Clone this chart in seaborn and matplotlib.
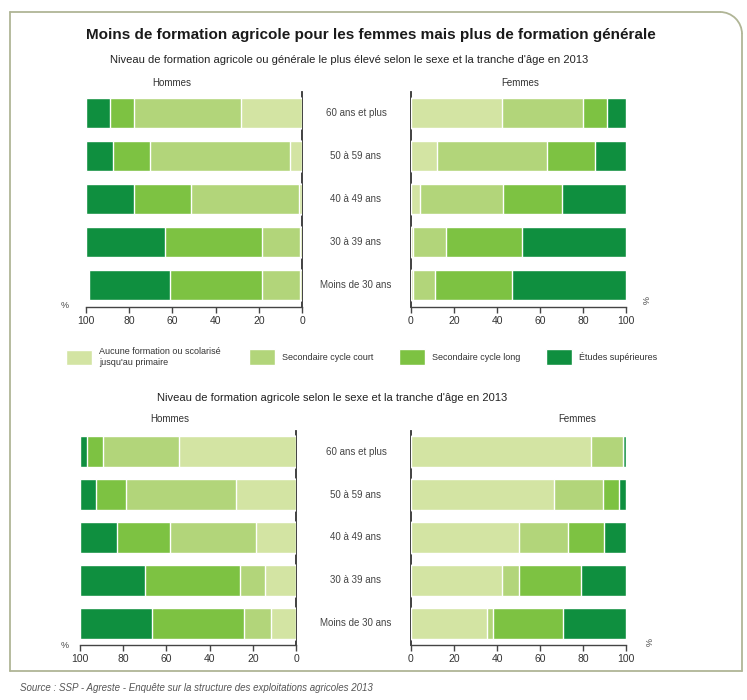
import numpy as np
import matplotlib
matplotlib.use("Agg")
import matplotlib.pyplot as plt
import matplotlib.transforms as mtransforms
from matplotlib.lines import Line2D
from matplotlib.patches import Arc
import seaborn as sns

sns.set_style("white")
plt.rcParams["font.family"] = ["Liberation Sans", "DejaVu Sans"]

# Data (percent)
ages = ["60 ans et plus", "50 à 59 ans", "40 à 49 ans", "30 à 39 ans", "Moins de 30 ans"]
levels = ["Aucune formation ou scolarisé\njusqu'au primaire", "Secondaire cycle court",
          "Secondaire cycle long", "Études supérieures"]
colors = ["#d3e4a3", "#b2d57a", "#7dc242", "#0f8f3f"]

# agricultural or general training
hommes_gen_aucune = [28.1, 5.4, 1.5, 1.0, 1.0]
hommes_gen_court = [49.6, 64.9, 49.8, 17.6, 17.6]
hommes_gen_long = [11.1, 17.3, 26.4, 44.7, 42.7]
hommes_gen_sup = [11.2, 12.4, 22.3, 36.7, 37.2]

femmes_gen_aucune = [42.2, 11.9, 4.2, 0.8, 0.8]
femmes_gen_court = [37.7, 51.2, 38.4, 15.3, 10.4]
femmes_gen_long = [11.2, 22.5, 27.4, 35.7, 36.0]
femmes_gen_sup = [8.9, 14.4, 30.0, 48.2, 52.8]

# agricultural training only
hommes_agri_aucune = [54.1, 27.7, 18.4, 14.2, 11.6]
hommes_agri_court = [35.4, 51.0, 39.9, 11.9, 12.4]
hommes_agri_long = [7.4, 13.9, 24.4, 44.0, 42.5]
hommes_agri_sup = [3.1, 7.4, 17.3, 29.8, 33.5]

femmes_agri_aucune = [83.6, 66.7, 50.4, 42.2, 35.2]
femmes_agri_court = [14.9, 22.5, 22.5, 8.2, 3.1]
femmes_agri_long = [0.3, 7.6, 16.9, 28.7, 32.6]
femmes_agri_sup = [1.2, 3.2, 10.2, 20.9, 29.1]

W, H = 747, 700
fig = plt.figure(figsize=(W / 100, H / 100), dpi=100)


def px_axes(x0, x1, y0, y1):
    return fig.add_axes([x0 / W, 1 - y1 / H, (x1 - x0) / W, (y1 - y0) / H])


def draw_panel(ax, series, hommes):
    cum = np.cumsum(np.array(series), axis=0)
    # longest cumulative bar first, shorter ones drawn over it
    for i in range(3, -1, -1):
        sns.barplot(x=cum[i], y=ages, orient="h", color=colors[i], saturation=1,
                    width=0.72, errorbar=None, label=levels[i], zorder=3, ax=ax)
    if ax.get_legend() is not None:
        ax.get_legend().remove()
    if hommes:
        ax.set_xlim(100, 0)
        ax.spines["left"].set_visible(False)
        ax.spines["right"].set_visible(True)
        side = "right"
    else:
        ax.set_xlim(0, 100)
        ax.spines["right"].set_visible(False)
        side = "left"
    ax.spines["top"].set_visible(False)
    ax.spines[side].set_color("#333333")
    ax.spines[side].set_linewidth(1.3)
    ax.spines[side].set_zorder(1)
    ax.spines["bottom"].set_color("#444444")
    ax.spines["bottom"].set_linewidth(1.0)
    ax.set_ylim(4.5, -0.5)
    ax.set_xticks([0, 20, 40, 60, 80, 100])
    ax.set_yticks([])
    ax.set_xlabel("")
    ax.set_ylabel("")
    ax.tick_params(axis="x", direction="out", length=4, width=1, color="#444444",
                   labelsize=7.5, labelcolor="#333333", pad=3, bottom=True)
    ax.patch.set_alpha(0)


ax_hg = px_axes(86, 302, 91.5, 306.5)
ax_fg = px_axes(411, 626, 91.5, 306.5)
ax_ha = px_axes(80, 296, 430.5, 644.5)
ax_fa = px_axes(411, 626, 430.5, 644.5)

draw_panel(ax_hg, [hommes_gen_aucune, hommes_gen_court, hommes_gen_long, hommes_gen_sup], True)
draw_panel(ax_fg, [femmes_gen_aucune, femmes_gen_court, femmes_gen_long, femmes_gen_sup], False)
draw_panel(ax_ha, [hommes_agri_aucune, hommes_agri_court, hommes_agri_long, hommes_agri_sup], True)
draw_panel(ax_fa, [femmes_agri_aucune, femmes_agri_court, femmes_agri_long, femmes_agri_sup], False)

# age labels between the panels
for ax in (ax_fg, ax_fa):
    tr = mtransforms.blended_transform_factory(fig.transFigure, ax.transData)
    for i, age in enumerate(ages):
        ax.text(356 / W, i, age, transform=tr, ha="center", va="center",
                fontsize=7, color="#444444")

# titles
fig.text(371 / W, 1 - 35 / H, "Moins de formation agricole pour les femmes mais plus de formation générale",
         ha="center", va="center", fontsize=11, fontweight="bold", color="#1a1a1a")
fig.text(349 / W, 1 - 60 / H,
         "Niveau de formation agricole ou générale le plus élevé selon le sexe et la tranche d'âge en 2013",
         ha="center", va="center", fontsize=8, color="#222222")
fig.text(332 / W, 1 - 398 / H, "Niveau de formation agricole selon le sexe et la tranche d'âge en 2013",
         ha="center", va="center", fontsize=8, color="#222222")
for x, y, t in [(172, 83, "Hommes"), (520, 83, "Femmes"), (170, 419, "Hommes"), (577, 419, "Femmes")]:
    fig.text(x / W, 1 - y / H, t, ha="center", va="center", fontsize=7, color="#333333")

# % unit marks
fig.text(65 / W, 1 - 305 / H, "%", ha="center", va="center", fontsize=6.5, color="#444444")
fig.text(65 / W, 1 - 645 / H, "%", ha="center", va="center", fontsize=6.5, color="#444444")
fig.text(644 / W, 1 - 300 / H, "%", ha="center", va="center", fontsize=6.5, color="#444444", rotation=-90)
fig.text(647 / W, 1 - 642 / H, "%", ha="center", va="center", fontsize=6.5, color="#444444", rotation=-90)

# legend: one entry per slot so each patch sits where it does in the original
handles, labels = ax_fg.get_legend_handles_labels()
handles, labels = handles[::-1], labels[::-1]
for h, lab, x in zip(handles, labels, [66, 249, 399, 546]):
    fig.legend([h], [lab], loc="center left", bbox_to_anchor=(x / W, 1 - 357 / H),
               frameon=False, fontsize=6.5, handlelength=2.9, handleheight=2.2,
               handletextpad=0.8, borderpad=0, borderaxespad=0, labelcolor="#333333")

# source
fig.text(20 / W, 1 - 688 / H, "Source : SSP - Agreste - Enquête sur la structure des exploitations agricoles 2013",
         ha="left", va="center", fontsize=7, style="italic", color="#555555")

# frame with rounded top-right corner
bc = "#b0b596"
r = 22
x0, x1, y0, y1 = 10, 742, 12, 671
frame = [([x0, x0], [y0, y1]), ([x0, x1], [y1, y1]), ([x1, x1], [y1, y0 + r]), ([x0, x1 - r], [y0, y0])]
for xs, ys in frame:
    fig.add_artist(Line2D([v / W for v in xs], [1 - v / H for v in ys], color=bc, lw=1.3,
                          transform=fig.transFigure))
fig.add_artist(Arc(((x1 - r) / W, 1 - (y0 + r) / H), 2 * r / W, 2 * r / H, theta1=0, theta2=90,
                   color=bc, lw=1.3, transform=fig.transFigure))

fig.savefig("out.png", dpi=100)
